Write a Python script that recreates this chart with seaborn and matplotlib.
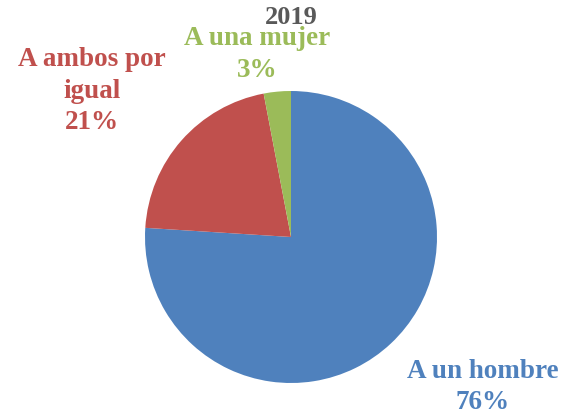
import matplotlib
matplotlib.use('Agg')
import matplotlib.pyplot as plt
import seaborn as sns

categories = ['A un hombre', 'A ambos por\nigual', 'A una mujer']
shares = [76, 21, 3]
colors = ['#4F81BD', '#C0504D', '#9BBB59']
title = '2019'

sns.set_theme(style='white')
plt.rcParams['font.family'] = ['Liberation Serif', 'DejaVu Serif']

fig = plt.figure(figsize=(5.66, 4.15), dpi=100)
ax = fig.add_axes([145 / 566, 32 / 415, 292 / 566, 292 / 415])

wedges, _ = ax.pie(shares, colors=colors, startangle=90, counterclock=False,
                   radius=1.0, wedgeprops={'linewidth': 0})
ax.set_xlim(-1, 1)
ax.set_ylim(-1, 1)
ax.set_aspect('equal')
ax.axis('off')

# label positions, in pie units
label_pos = [(1.315, -1.03), (-1.363, 1.0), (-0.233, 1.25)]
for name, val, col, (x, y) in zip(categories, shares, colors, label_pos):
    ax.text(x, y, f'{name}\n{val}%', color=col, fontsize=19.5, fontweight='bold',
            ha='center', va='center', linespacing=1.32, clip_on=False)

fig.text(291 / 566, 1 - 17 / 415, title, color='#595959', fontsize=19,
         fontweight='bold', ha='center', va='center')

fig.savefig('out.png', dpi=100)
